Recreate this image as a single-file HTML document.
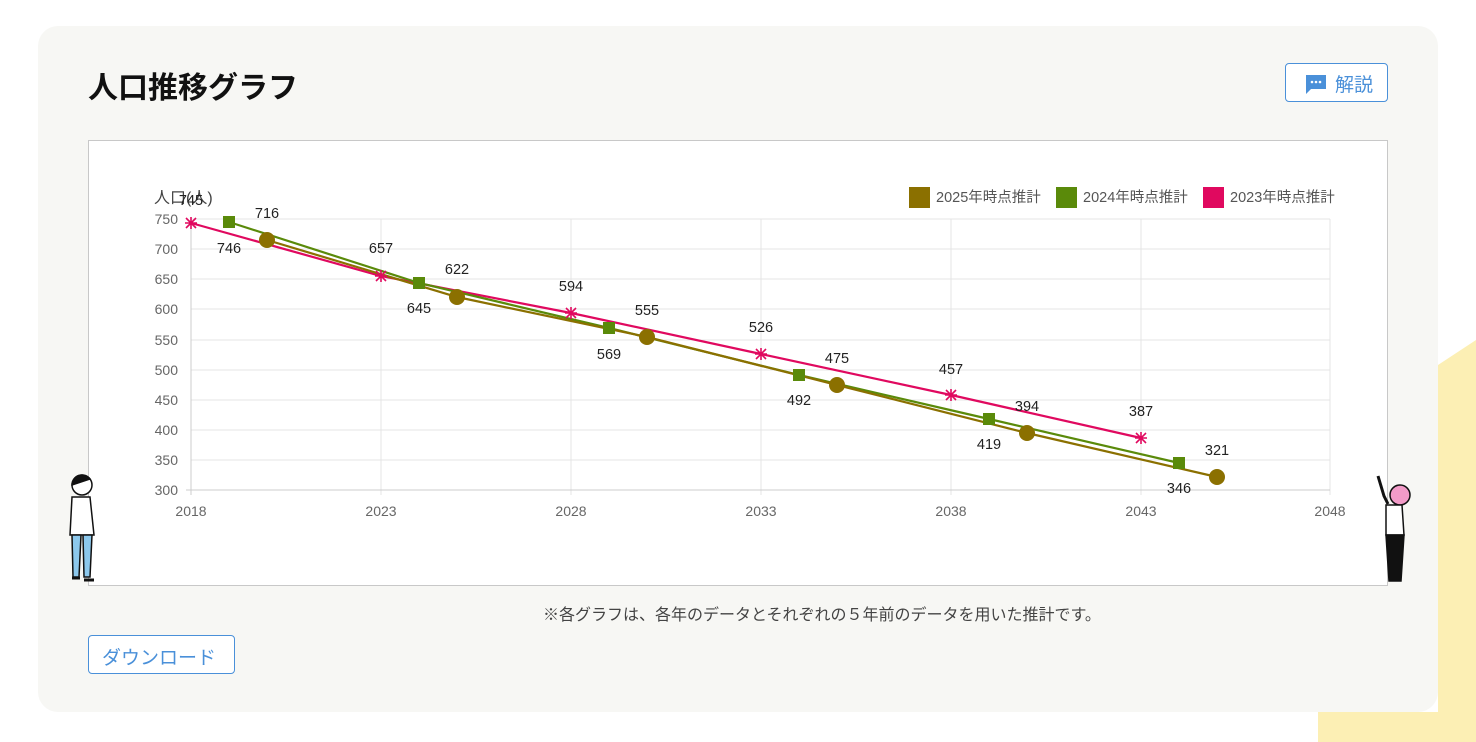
<!DOCTYPE html>
<html><head><meta charset="utf-8"><style>
html,body{margin:0;padding:0;width:1476px;height:742px;overflow:hidden;background:#fff;font-family:"Liberation Sans","Noto Sans CJK JP",sans-serif;}
.card{position:absolute;left:38px;top:26px;width:1400px;height:686px;background:#f7f7f4;border-radius:20px;}
h1{position:absolute;left:88px;top:63px;margin:0;font-size:30px;font-weight:bold;color:#111;}
.btn{position:absolute;border:1px solid #4a90d9;border-radius:4px;background:#fff;color:#4a90d9;font-size:19px;box-sizing:border-box;}
.chart{position:absolute;left:88px;top:140px;width:1300px;height:446px;background:#fff;border:1px solid #c8c8c8;box-sizing:border-box;}
.note{position:absolute;left:543px;top:601px;font-size:16px;color:#444;}
</style></head><body>
<svg style="position:absolute;left:0;top:0" width="1476" height="742">
<polygon points="1476,340 1438,365 1438,712 1318,712 1318,742 1476,742" fill="#fcefb4"/>
</svg>
<div class="card"></div>
<h1>人口推移グラフ</h1>
<div class="btn" style="left:1285px;top:63px;width:103px;height:39px;">
<svg style="position:absolute;left:18px;top:9px" width="24" height="22"><path d="M2 2h20v14H7l-5 5z" fill="#4a90d9"/><circle cx="8" cy="9" r="1.3" fill="#fff"/><circle cx="12" cy="9" r="1.3" fill="#fff"/><circle cx="16" cy="9" r="1.3" fill="#fff"/></svg>
<span style="position:absolute;left:49px;top:6px">解説</span></div>
<div class="chart"></div>
<svg style="position:absolute;left:0;top:0" width="1476" height="742" font-family="Liberation Sans, Noto Sans CJK JP, sans-serif">
<g stroke="#e4e4e4" stroke-width="1">
<line x1="191" y1="219" x2="1330" y2="219"/><line x1="191" y1="249" x2="1330" y2="249"/><line x1="191" y1="279" x2="1330" y2="279"/><line x1="191" y1="309" x2="1330" y2="309"/><line x1="191" y1="340" x2="1330" y2="340"/><line x1="191" y1="370" x2="1330" y2="370"/><line x1="191" y1="400" x2="1330" y2="400"/><line x1="191" y1="430" x2="1330" y2="430"/><line x1="191" y1="460" x2="1330" y2="460"/>
<line x1="381" y1="219" x2="381" y2="495"/><line x1="571" y1="219" x2="571" y2="495"/><line x1="761" y1="219" x2="761" y2="495"/><line x1="951" y1="219" x2="951" y2="495"/><line x1="1141" y1="219" x2="1141" y2="495"/><line x1="1330" y1="219" x2="1330" y2="495"/>
</g>
<line x1="191" y1="219" x2="191" y2="495" stroke="#ccc"/><line x1="186" y1="490" x2="1330" y2="490" stroke="#ccc"/>
<g font-size="14" fill="#666" text-anchor="end">
<text x="178" y="224">750</text><text x="178" y="254">700</text><text x="178" y="284">650</text><text x="178" y="314">600</text><text x="178" y="345">550</text><text x="178" y="375">500</text><text x="178" y="405">450</text><text x="178" y="435">400</text><text x="178" y="465">350</text><text x="178" y="495">300</text>
</g>
<g font-size="14" fill="#666" text-anchor="middle">
<text x="191" y="516">2018</text><text x="381" y="516">2023</text><text x="571" y="516">2028</text><text x="761" y="516">2033</text><text x="951" y="516">2038</text><text x="1141" y="516">2043</text><text x="1330" y="516">2048</text>
</g>
<text x="154" y="203" font-size="16" fill="#444">人口(人)</text>
<g font-size="14.5" fill="#555">
<rect x="909" y="187" width="21" height="21" fill="#8b7000"/><text x="936" y="202">2025年時点推計</text>
<rect x="1056" y="187" width="21" height="21" fill="#5a8a0a"/><text x="1083" y="202">2024年時点推計</text>
<rect x="1203" y="187" width="21" height="21" fill="#e0095f"/><text x="1230" y="202">2023年時点推計</text>
</g>
<polyline points="191,223 381,276 571,313 761,354 951,395 1141,438" fill="none" stroke="#e0095f" stroke-width="2.2"/>
<polyline points="229,222 419,283 609,328 799,375 989,419 1179,463" fill="none" stroke="#5a8a0a" stroke-width="2.2"/>
<polyline points="267,240 457,297 647,337 837,385 1027,433 1217,477" fill="none" stroke="#8b7000" stroke-width="2.2"/>
<g stroke="#e0095f" stroke-width="1.6">
<path d="M185 223h12M191 217v12M186 218l10 10M196 218l-10 10"/>
<path d="M375 276h12M381 270v12M376 271l10 10M386 271l-10 10"/>
<path d="M565 313h12M571 307v12M566 308l10 10M576 308l-10 10"/>
<path d="M755 354h12M761 348v12M756 349l10 10M766 349l-10 10"/>
<path d="M945 395h12M951 389v12M946 390l10 10M956 390l-10 10"/>
<path d="M1135 438h12M1141 432v12M1136 433l10 10M1146 433l-10 10"/>
</g>
<g fill="#5a8a0a">
<rect x="223" y="216" width="12" height="12"/><rect x="413" y="277" width="12" height="12"/><rect x="603" y="322" width="12" height="12"/><rect x="793" y="369" width="12" height="12"/><rect x="983" y="413" width="12" height="12"/><rect x="1173" y="457" width="12" height="12"/>
</g>
<g fill="#8b7000">
<circle cx="267" cy="240" r="8"/><circle cx="457" cy="297" r="8"/><circle cx="647" cy="337" r="8"/><circle cx="837" cy="385" r="8"/><circle cx="1027" cy="433" r="8"/><circle cx="1217" cy="477" r="8"/>
</g>
<g font-size="14.5" fill="#222" text-anchor="middle">
<text x="191" y="205">745</text><text x="381" y="253">657</text><text x="571" y="291">594</text><text x="761" y="332">526</text><text x="951" y="374">457</text><text x="1141" y="416">387</text>
<text x="229" y="253">746</text><text x="419" y="313">645</text><text x="609" y="359">569</text><text x="799" y="405">492</text><text x="989" y="449">419</text><text x="1179" y="493">346</text>
<text x="267" y="218">716</text><text x="457" y="274">622</text><text x="647" y="315">555</text><text x="837" y="363">475</text><text x="1027" y="411">394</text><text x="1217" y="455">321</text>
</g>
<g stroke="#111" stroke-width="1.5">
<circle cx="82" cy="485" r="10" fill="#fff"/><path d="M72 485a10 10 0 0 1 18-6z" fill="#111"/>
<path d="M72 497h18l4 38H70z" fill="#fff"/>
<path d="M72 535h9l-2 42h-6zM83 535h9l-2 42h-6z" fill="#8cc8ec"/>
<path d="M72 578h8M84 580h10" stroke-width="3"/>
<circle cx="1400" cy="495" r="10" fill="#f29bc8"/>
<path d="M1378 476l6 20 4 8" fill="none" stroke-width="3"/>
<path d="M1386 505h16l2 30h-18z" fill="#fff"/>
<path d="M1386 535h18l-3 46h-12z" fill="#111"/>
</g>
</svg>
<div class="note">※各グラフは、各年のデータとそれぞれの５年前のデータを用いた推計です。</div>
<div class="btn" style="left:88px;top:635px;width:147px;height:39px;"><span style="position:absolute;left:13px;top:7px">ダウンロード</span></div>
</body></html>
